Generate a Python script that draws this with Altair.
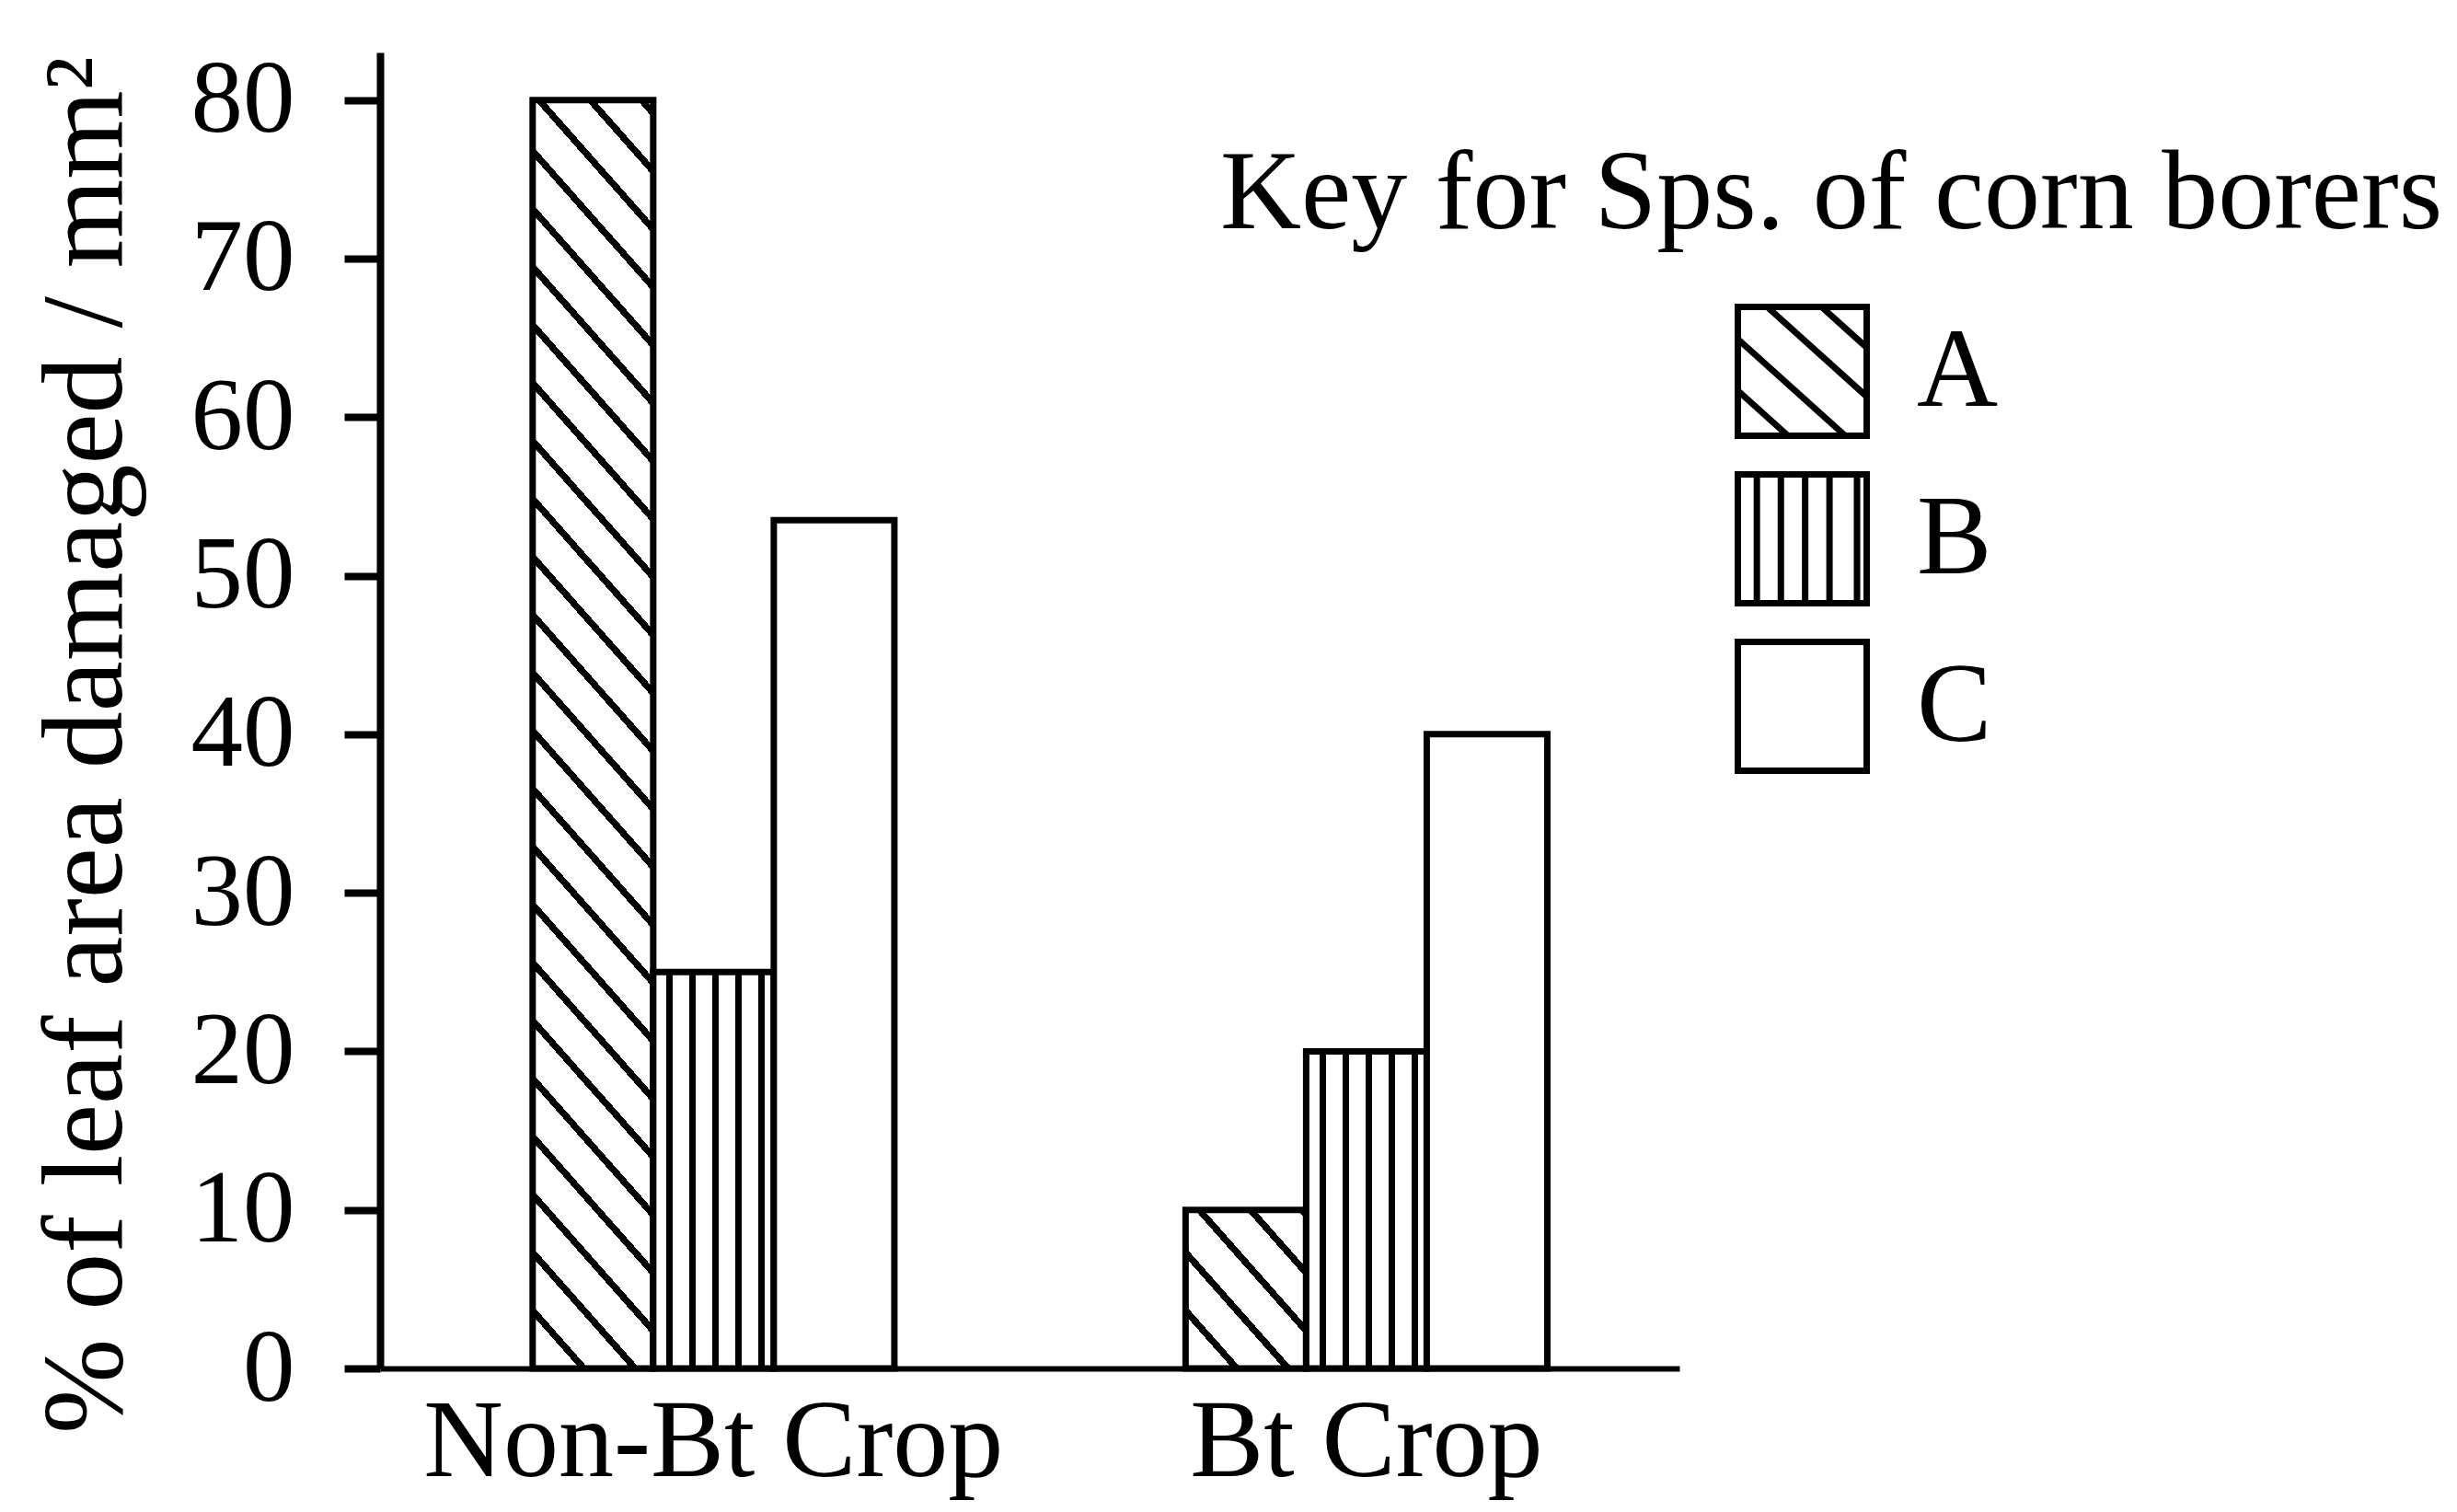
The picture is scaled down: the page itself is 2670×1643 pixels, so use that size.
import math
import altair as alt
import pandas as pd

# ---------------- data ----------------
crops = ["Non-Bt Crop", "Bt Crop"]
species = ["A", "B", "C"]
non_bt_values = [80, 25, 53.5]
bt_values = [10, 20, 40]
y_ticks = [0, 10, 20, 30, 40, 50, 60, 70, 80]
y_title = "% of leaf area damaged / mm²"
legend_title = "Key for Sps. of corn borers"

rows = []
for crop, vals in zip(crops, [non_bt_values, bt_values]):
    for sp, v in zip(species, vals):
        rows.append({"crop": crop, "species": sp, "value": v})
df = pd.DataFrame(rows)

# ---------------- layout / style ----------------
FONT = "Liberation Serif"
PLOT_W, PLOT_H = 1412, 1430
Y_MAX = 83
P_IN, P_OUT, ALIGN = 0.446, 0.218, 0.536
step = PLOT_W / (len(crops) - P_IN + 2 * P_OUT)
bar_w = step * (1 - P_IN) / len(species)


def stripes_to_stops(centers, half):
    stops = [{"offset": 0, "color": "white"}]
    for t in sorted(centers):
        a = max(0.0, t - half)
        b = min(1.0, t + half)
        if b <= 0 or a >= 1:
            continue
        stops += [
            {"offset": a, "color": "white"},
            {"offset": a, "color": "black"},
            {"offset": b, "color": "black"},
            {"offset": b, "color": "white"},
        ]
    stops.append({"offset": 1, "color": "white"})
    return stops


def diag_fill(w, h, slope=1.13, spacing=63, thick=11):
    # stripes along Y - slope*X = const, anchored at the bottom-left corner
    S = slope * w
    total = h + S
    k = total / (S * S + h * h)
    centers = []
    n = 0
    while True:
        phi = h - n * spacing
        if phi < -S - spacing:
            break
        centers.append((phi + S) / total)
        n += 1
    return {
        "gradient": "linear",
        "x1": 1, "y1": 0,
        "x2": 1 - S * k, "y2": h * k,
        "stops": stripes_to_stops(centers, thick / 2 / total),
    }


def vert_fill(w, first=18, spacing=25, count=5, thick=7):
    xs = [(first + i * spacing) / w for i in range(count)]
    return {
        "gradient": "linear",
        "x1": 0, "y1": 0, "x2": 1, "y2": 0,
        "stops": stripes_to_stops(xs, thick / 2 / w),
    }


conds = []
for r in rows:
    h = r["value"] * PLOT_H / Y_MAX
    if r["species"] == "A":
        g = diag_fill(bar_w, h)
    elif r["species"] == "B":
        g = vert_fill(bar_w)
    else:
        continue
    conds.append({
        "test": f"datum.crop === '{r['crop']}' && datum.species === '{r['species']}'",
        "value": g,
    })
fill_def = {"condition": conds, "value": "white"}

# legend glyphs (unit square -1..1)
square = "M-1,-1H1V1H-1Z"


def diag_path(slope, cs):
    p = square
    for c in cs:
        xa = max(-1.0, (-1 - c) / slope)
        xb = min(1.0, (1 - c) / slope)
        if xb <= xa:
            continue
        p += f" M{xa:.3f},{slope * xa + c:.3f}L{xb:.3f},{slope * xb + c:.3f}"
    return p


def vert_path(xs):
    p = square
    for x in xs:
        p += f" M{x:.3f},-1L{x:.3f},1"
    return p


shape_paths = [
    diag_path(0.9, [-1.27, -0.51, 0.4, 1.2]),
    vert_path([-0.705, -0.332, 0.045, 0.423, 0.85]),
    square,
]

base = alt.Chart(df)

bars = base.mark_bar(stroke="black", strokeWidth=7, strokeJoin="miter").encode(
    x=alt.X(
        "crop:N", sort=crops,
        scale=alt.Scale(paddingInner=P_IN, paddingOuter=P_OUT, align=ALIGN),
        axis=alt.Axis(title=None, labelAngle=0, ticks=False, tickSize=0,
                      labelPadding=116, labelBaseline="alphabetic",
                      labelFontSize=120, labelLimit=2000, domainWidth=6),
    ),
    xOffset=alt.XOffset("species:N", sort=species,
                        scale=alt.Scale(paddingInner=0, paddingOuter=0)),
    y=alt.Y(
        "value:Q",
        scale=alt.Scale(domain=[0, Y_MAX], nice=False),
        axis=alt.Axis(values=y_ticks, title=y_title, grid=False,
                      tickSize=39, tickWidth=8, domainWidth=8,
                      labelPadding=54, labelFontSize=113,
                      titleFontSize=124, titleX=-282, titleY=752,
                      titleAngle=270, titleBaseline="alphabetic",
                      titleAlign="center", titleLimit=3000),
    ),
    fill=fill_def,
)

legend_layer = base.mark_point(
    filled=False, color="black", strokeWidth=7, size=19600, opacity=1
).encode(
    shape=alt.Shape(
        "species:N",
        scale=alt.Scale(domain=species, range=shape_paths),
        legend=alt.Legend(
            title=legend_title, orient="none", legendX=913, legendY=95,
            titleFont=FONT, titleFontSize=122, titleFontWeight="normal",
            titleColor="black", titleLimit=3000, titlePadding=56,
            labelFont=FONT, labelFontSize=122, labelColor="black",
            labelOffset=51, labelLimit=600,
            symbolSize=19600, symbolStrokeWidth=7, symbolFillColor="white",
            symbolStrokeColor="black", symbolOffset=559, symbolOpacity=1,
            rowPadding=13,
        ),
    )
).transform_filter("false")

chart = alt.layer(bars, legend_layer).properties(
    width=PLOT_W, height=PLOT_H,
    padding={"left": 405, "top": 49, "right": 837, "bottom": 146},
    autosize=alt.AutoSizeParams(type="none"),
    background="white",
).configure_view(stroke=None).configure_axis(
    labelFont=FONT, titleFont=FONT, labelColor="black", titleColor="black",
    domainColor="black", tickColor="black", titleFontWeight="normal",
)

chart.save("out.html", embed_options={"renderer": "svg", "actions": False})
